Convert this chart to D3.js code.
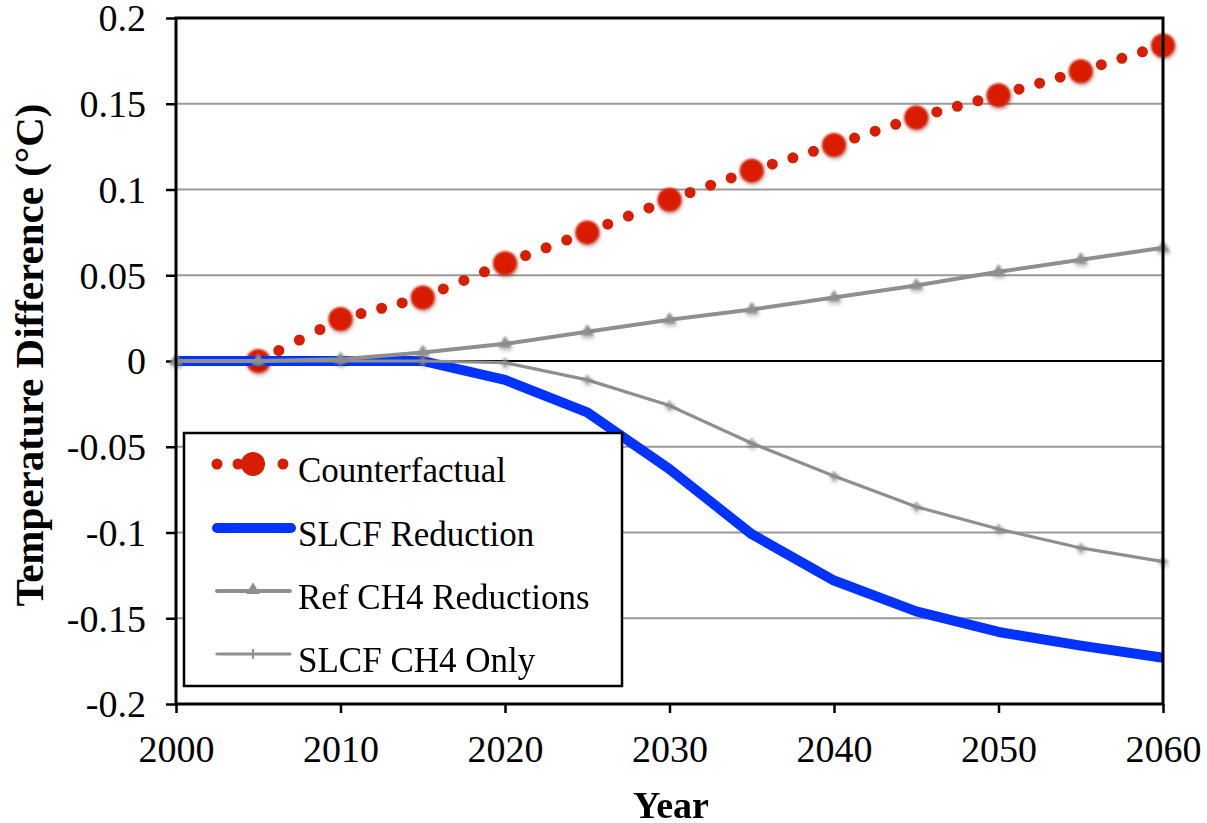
<!DOCTYPE html>
<html>
<head>
<meta charset="utf-8">
<script src="https://cdn.jsdelivr.net/npm/d3@7"></script>
<style>
  html, body { margin: 0; padding: 0; background: #fff; }
  svg { display: block; }
  svg text { font-family: "Liberation Serif", "Times New Roman", Times, serif !important; fill: #000; }
</style>
</head>
<body>
<svg id="chart" width="1207" height="823"></svg>
<script>
// Temperature difference relative to the reference scenario (°C), every 5 years
const years = [2000, 2005, 2010, 2015, 2020, 2025, 2030, 2035, 2040, 2045, 2050, 2055, 2060];
const counterfactual  = [null, 0.000, 0.0245, 0.037, 0.057, 0.075, 0.094, 0.111, 0.126, 0.142, 0.155, 0.169, 0.184];
const slcfReduction   = [0.000, 0.000, 0.000, 0.000, -0.011, -0.030, -0.063, -0.101, -0.128, -0.146, -0.158, -0.166, -0.173];
const refCh4          = [0.000, 0.000, 0.001, 0.005, 0.010, 0.017, 0.024, 0.030, 0.037, 0.044, 0.052, 0.059, 0.066];
const slcfCh4Only     = [0.000, 0.000, 0.000, 0.000, -0.001, -0.011, -0.026, -0.048, -0.067, -0.085, -0.098, -0.109, -0.117];

const xTicks = [2000, 2010, 2020, 2030, 2040, 2050, 2060];
const yTicks = [0.2, 0.15, 0.1, 0.05, 0, -0.05, -0.1, -0.15, -0.2];
const seriesNames = ["Counterfactual", "SLCF Reduction", "Ref CH4 Reductions", "SLCF CH4 Only"];

const svg = d3.select("#chart");
const plot = { left: 176, right: 1163, top: 18, bottom: 704 };

const x = d3.scaleLinear().domain([2000, 2060]).range([plot.left, plot.right]);
const y = d3.scaleLinear().domain([-0.2, 0.2]).range([plot.bottom, plot.top]);

const red = "#d91e00", blue = "#0033ff", gray = "#8f8f8f";

// soft drop shadow used by the point markers
const defs = svg.append("defs");
const f = defs.append("filter").attr("id", "mshadow")
  .attr("x", "-60%").attr("y", "-60%").attr("width", "220%").attr("height", "220%");
f.append("feGaussianBlur").attr("in", "SourceGraphic").attr("stdDeviation", 0.8).attr("result", "soft");
f.append("feGaussianBlur").attr("in", "SourceAlpha").attr("stdDeviation", 2).attr("result", "b");
f.append("feOffset").attr("in", "b").attr("dx", 1).attr("dy", 2).attr("result", "o");
f.append("feComponentTransfer").attr("in", "o").attr("result", "s")
  .append("feFuncA").attr("type", "linear").attr("slope", 0.35);
const fm = f.append("feMerge");
fm.append("feMergeNode").attr("in", "s");
fm.append("feMergeNode").attr("in", "soft");

// horizontal gridlines
svg.append("g").selectAll("line")
  .data(yTicks.filter(v => v !== 0 && Math.abs(v) < 0.2))
  .join("line")
  .attr("x1", plot.left).attr("x2", plot.right)
  .attr("y1", d => y(d)).attr("y2", d => y(d))
  .attr("stroke", "#999").attr("stroke-width", 2);

// zero line
svg.append("line")
  .attr("x1", plot.left).attr("x2", plot.right)
  .attr("y1", y(0)).attr("y2", y(0))
  .attr("stroke", "#000").attr("stroke-width", 2);

// axes
const yAxis = d3.axisLeft(y).tickValues(yTicks).tickSize(10).tickPadding(20)
  .tickFormat(d => d === 0 ? "0" : String(+d.toFixed(2)));
const gy = svg.append("g").attr("transform", `translate(${plot.left},0)`).call(yAxis);
gy.attr("font-family", null).attr("font-size", null);
gy.select(".domain").remove();
gy.selectAll(".tick line").attr("stroke", "#000").attr("stroke-width", 2.5);
gy.selectAll(".tick text").attr("font-size", 38).attr("dy", "0.34em");

const xAxis = d3.axisBottom(x).tickValues(xTicks).tickSize(9).tickPadding(22).tickFormat(d3.format("d"));
const gx = svg.append("g").attr("transform", `translate(0,${plot.bottom})`).call(xAxis);
gx.attr("font-family", null).attr("font-size", null);
gx.select(".domain").remove();
gx.selectAll(".tick line").attr("stroke", "#000").attr("stroke-width", 2.5);
gx.selectAll(".tick text").attr("font-size", 38).attr("dy", "0.72em");

// series
const pts = arr => years.map((yr, i) => ({ yr, v: arr[i] })).filter(d => d.v !== null);
const line = d3.line().x(d => x(d.yr)).y(d => y(d.v));

// Counterfactual: each 5-year segment carries three round dots, large dots at the data points
const cf = pts(counterfactual);
const cfSegs = d3.pairs(cf);
svg.append("g").selectAll("path").data(cfSegs).join("path")
  .attr("d", s => line(s))
  .attr("fill", "none").attr("stroke", red).attr("stroke-width", 11)
  .attr("stroke-linecap", "round")
  .attr("stroke-dasharray", s => {
    const L = Math.hypot(x(s[1].yr) - x(s[0].yr), y(s[1].v) - y(s[0].v));
    return `0 ${L / 4}`;
  });
svg.append("g").attr("filter", "url(#mshadow)").selectAll("circle").data(cf).join("circle")
  .attr("cx", d => x(d.yr)).attr("cy", d => y(d.v)).attr("r", 12).attr("fill", red);

// SLCF Reduction: thick blue line
svg.append("path").datum(pts(slcfReduction)).attr("d", line)
  .attr("fill", "none").attr("stroke", blue).attr("stroke-width", 10)
  .attr("stroke-linejoin", "round");

// Ref CH4 Reductions: gray line with triangle markers
const rc = pts(refCh4);
svg.append("path").datum(rc).attr("d", line)
  .attr("fill", "none").attr("stroke", gray).attr("stroke-width", 4);
const tri = d3.symbol().type(d3.symbolTriangle).size(80);
svg.append("g").attr("filter", "url(#mshadow)").selectAll("path").data(rc).join("path")
  .attr("transform", d => `translate(${x(d.yr)},${y(d.v)})`)
  .attr("d", tri).attr("fill", gray);

// SLCF CH4 Only: thinner gray line with small tick markers
const so = pts(slcfCh4Only);
svg.append("path").datum(so).attr("d", line)
  .attr("fill", "none").attr("stroke", gray).attr("stroke-width", 3.2);
const plus = d3.symbol().type(d3.symbolCross).size(50);
svg.append("g").attr("filter", "url(#mshadow)").selectAll("path").data(so).join("path")
  .attr("transform", d => `translate(${x(d.yr)},${y(d.v)})`)
  .attr("d", plus).attr("fill", gray).attr("opacity", 0.8);

// plot frame
svg.append("rect")
  .attr("x", plot.left).attr("y", plot.top)
  .attr("width", plot.right - plot.left).attr("height", plot.bottom - plot.top)
  .attr("fill", "none").attr("stroke", "#000").attr("stroke-width", 3);

// legend
const lg = svg.append("g");
lg.append("rect").attr("x", 184).attr("y", 433).attr("width", 438).attr("height", 253)
  .attr("fill", "#fff").attr("stroke", "#000").attr("stroke-width", 2.5);
const rowY = [464, 528, 591, 654];
seriesNames.forEach((name, i) => {
  const cy = rowY[i];
  if (i === 0) {
    [217, 238, 283].forEach(cx => lg.append("circle").attr("cx", cx).attr("cy", cy).attr("r", 5.5).attr("fill", red));
    lg.append("circle").attr("cx", 253).attr("cy", cy).attr("r", 12).attr("fill", red);
  } else if (i === 1) {
    lg.append("line").attr("x1", 217).attr("x2", 291).attr("y1", cy).attr("y2", cy)
      .attr("stroke", blue).attr("stroke-width", 10).attr("stroke-linecap", "round");
  } else if (i === 2) {
    lg.append("line").attr("x1", 217).attr("x2", 290).attr("y1", cy).attr("y2", cy)
      .attr("stroke", gray).attr("stroke-width", 4).attr("stroke-linecap", "round");
    lg.append("path").attr("transform", `translate(253,${cy - 1})`).attr("d", tri).attr("fill", gray);
  } else {
    lg.append("line").attr("x1", 217).attr("x2", 290).attr("y1", cy).attr("y2", cy)
      .attr("stroke", gray).attr("stroke-width", 3.2).attr("stroke-linecap", "round");
    lg.append("rect").attr("x", 252).attr("y", cy - 5).attr("width", 2).attr("height", 10).attr("fill", gray);
  }
  lg.append("text").attr("x", 298).attr("y", cy + 18)
    .attr("font-size", 35).text(name);
});

// axis titles
svg.append("text").attr("x", 671).attr("y", 818).attr("text-anchor", "middle")
  .attr("font-size", 38).attr("font-weight", "bold").text("Year");
svg.append("text").attr("transform", "translate(43,355) rotate(-90)")
  .attr("text-anchor", "middle").attr("font-size", 41).attr("font-weight", "bold")
  .text("Temperature Difference (°C)");
</script>
</body>
</html>
